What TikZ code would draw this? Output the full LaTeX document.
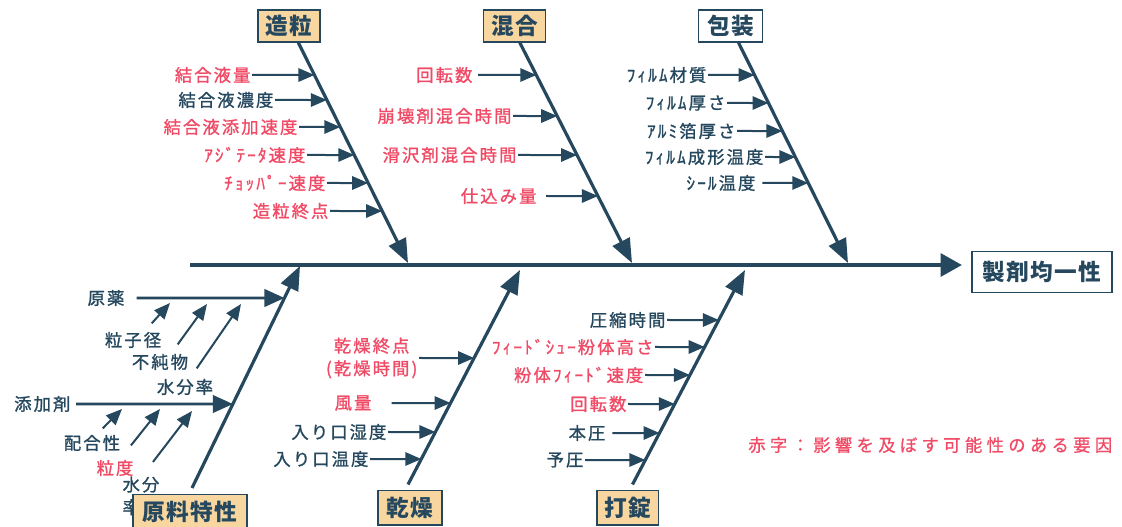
\documentclass[tikz,border=0pt]{standalone}
\usepackage{fontspec}
\usepackage{tikz}
\usetikzlibrary{arrows.meta, calc, positioning}

\newfontfamily\jpfont{Noto Sans CJK JP}[LetterSpace=12, FakeBold=1.2]
\newfontfamily\jpcatfont{Noto Sans CJK JP}[LetterSpace=6]
\newfontfamily\jpnotefont{Noto Sans CJK JP}[LetterSpace=25, FakeBold=0.8]
\definecolor{ink}{HTML}{25485E}
\definecolor{redtxt}{HTML}{F04B66}
\definecolor{peach}{HTML}{F8D6A0}

\begin{document}
\begin{tikzpicture}[x=0.75pt, y=-0.75pt,
	spine/.style={draw=ink, line width=3pt, -{Triangle[length=16pt, width=17pt]}},
	bone/.style={draw=ink, line width=2.4pt, -{Triangle[length=18pt, width=14pt]}},
	limb/.style={draw=ink, line width=2.2pt, -{Triangle[length=15pt, width=13pt]}},
	twig/.style={draw=ink, line width=1.5pt, -{Triangle[length=12pt, width=10pt]}},
	cat/.style={draw=ink, line width=1pt, fill=peach, text=ink, inner sep=0pt,
		minimum height=24pt, font=\jpcatfont\bfseries\fontsize{17}{18}\selectfont},
	lbl/.style={text=ink, inner sep=1pt, font=\jpfont\fontsize{13}{17}\selectfont}]
	\useasboundingbox (0,0) rectangle (1122,527);
	
	% head and spine
	\node[cat, fill=white, minimum width=105pt, minimum height=31pt] (seizai) at (1042,272) {製剤均一性};
	\coordinate (sp) at (190,265);
	\draw[spine] (sp) -- ([xshift=-7pt]sp -| seizai.west);
	
	% upper bones
	\node[cat, minimum width=46.5pt] (zouryu) at (289,26) {造粒};
	\node[cat, minimum width=46.5pt] (kongou) at (514.5,26) {混合};
	\node[cat, fill=white, minimum width=48pt] (housou) at (730.5,26) {包装};
	\coordinate (zs) at ([xshift=7pt]zouryu.south);
	\coordinate (ks) at ([xshift=4pt]kongou.south);
	\coordinate (hs) at ([xshift=6pt]housou.south);
	\coordinate (zt) at (408,263);
	\coordinate (kt) at (632,263);
	\coordinate (ht) at (848,263);
	\draw[bone] (zs) -- (zt);
	\draw[bone] (ks) -- (kt);
	\draw[bone] (hs) -- (ht);
	
	\foreach \i/\lab/\x/\y/\col/\gap in {1/結合液量/252/75/redtxt/0, 2/結合液濃度/275/100/ink/0,
		3/結合液添加速度/299/127/redtxt/0, 4/ｱｼﾞﾃｰﾀ速度/307/155/redtxt/0,
		5/ﾁｮｯﾊﾟｰ速度/327/183/redtxt/0, 6/造粒終点/330/211/redtxt/0}{
		\node[lbl, text=\col, anchor=east] (z\i) at (\x,\y) {\lab};
		\draw[twig, shorten <=\gap pt] (z\i.east) -- (intersection of z\i.west--z\i.east and zs--zt);
	}
	\foreach \i/\lab/\x/\y/\col/\gap in {1/回転数/474/75/redtxt/3, 2/崩壊剤混合時間/513/116/redtxt/0,
		3/滑沢剤混合時間/518/155/redtxt/0, 4/仕込み量/538/196/redtxt/6}{
		\node[lbl, text=\col, anchor=east] (k\i) at (\x,\y) {\lab};
		\draw[twig, shorten <=\gap pt] (k\i.east) -- (intersection of k\i.west--k\i.east and ks--kt);
	}
	\foreach \i/\lab/\x/\y/\col/\gap in {1/ﾌｨﾙﾑ材質/708/75/ink/0, 2/ﾌｨﾙﾑ厚さ/727/103/ink/0,
		3/ｱﾙﾐ箔厚さ/737/131/ink/0, 4/ﾌｨﾙﾑ成形温度/765/157/ink/0, 5/ｼｰﾙ温度/757/183/ink/4}{
		\node[lbl, text=\col, anchor=east] (h\i) at (\x,\y) {\lab};
		\draw[twig, shorten <=\gap pt] (h\i.east) -- (intersection of h\i.west--h\i.east and hs--ht);
	}
	
	% lower bones
	\node[cat, minimum width=48pt, minimum height=26pt] (kansou) at (410,507.5) {乾燥};
	\node[cat, minimum width=46pt, minimum height=26pt] (dajou) at (627.5,507.5) {打錠};
	\coordinate (ds) at ([shift={(-2,-5)}]kansou.north);
	\coordinate (ts) at ([shift={(5,-5)}]dajou.north);
	\coordinate (dt) at (520,270);
	\coordinate (tt) at (745,270);
	\draw[bone] (ds) -- (dt);
	\draw[bone] (ts) -- (tt);
	
	\node[lbl, text=redtxt, anchor=east, align=center] (d1) at (419,358) {乾燥終点\\(乾燥時間)};
	\draw[twig] (d1.east) -- (intersection of d1.west--d1.east and ds--dt);
	\foreach \i/\lab/\x/\y/\col/\gap in {2/風量/373/403/redtxt/14, 3/入り口湿度/388/432/ink/0,
		4/入り口温度/370/459/ink/0}{
		\node[lbl, text=\col, anchor=east] (d\i) at (\x,\y) {\lab};
		\draw[twig, shorten <=\gap pt] (d\i.east) -- (intersection of d\i.west--d\i.east and ds--dt);
	}
	\foreach \i/\lab/\x/\y/\col/\gap in {1/圧縮時間/667/320/ink/0, 2/ﾌｨｰﾄﾞｼｭｰ粉体高さ/655/347/redtxt/0,
		3/粉体ﾌｨｰﾄﾞ速度/645/375/redtxt/0, 4/回転数/628/404/redtxt/0, 5/本圧/607/433/ink/4,
		6/予圧/585/460/ink/0}{
		\node[lbl, text=\col, anchor=east] (t\i) at (\x,\y) {\lab};
		\draw[twig, shorten <=\gap pt] (t\i.east) -- (intersection of t\i.west--t\i.east and ts--tt);
	}
	
	% raw materials
	\coordinate (gs) at (192,488);
	\coordinate (gt) at (300,266);
	\draw[bone] (gs) -- (gt);
	\node[lbl, anchor=east] (genyaku) at (126,298) {原薬};
	\node[lbl, anchor=east] (tenka) at (72,404) {添加剤};
	\draw[limb, shorten <=8pt] (genyaku.east) -- (intersection of genyaku.west--genyaku.east and gs--gt);
	\draw[limb, shorten <=3pt] (tenka.east) -- (intersection of tenka.west--tenka.east and gs--gt);
	
	\node[lbl] (ryushi) at (133,340) {粒子径};
	\node[lbl] (junbutsu) at (160,362) {不純物};
	\node[lbl] (suibun) at (185,387) {水分率};
	\node[lbl] (haigou) at (92,443) {配合性};
	\node[lbl, text=redtxt] (ryudo) at (115,468) {粒度};
	\node[lbl, anchor=north west, align=left] (suibun2) at (121,475) {水分\\率};
	\coordinate (r1) at (170,303);
	\coordinate (r2) at (207,304);
	\coordinate (r3) at (241,304);
	\coordinate (a1) at (122,409);
	\coordinate (a2) at (160,409);
	\coordinate (a3) at (192,411);
	\draw[twig] ([shift={(-11,-7)}]ryushi.north east) -- (r1);
	\draw[twig] ([shift={(-12,-8)}]junbutsu.north east) -- (r2);
	\draw[twig] ([shift={(-18,-9)}]suibun.north east) -- (r3);
	\draw[twig] ([shift={(-19,-5)}]haigou.north east) -- (a1);
	\draw[twig] ([shift={(-4,-13)}]ryudo.north east) -- (a2);
	\draw[twig] ([shift={(-8,-13)}]suibun2.north east) -- (a3);
	\node[cat, minimum width=85.5pt, minimum height=26pt] (genryo) at (190,512) {原料特性};
	
	% note
	\node[anchor=west, inner sep=0pt, text=redtxt, font=\jpnotefont\fontsize{13}{15}\selectfont] (note) at (748,445) {赤字：影響を及ぼす可能性のある要因};
\end{tikzpicture}
\end{document}
